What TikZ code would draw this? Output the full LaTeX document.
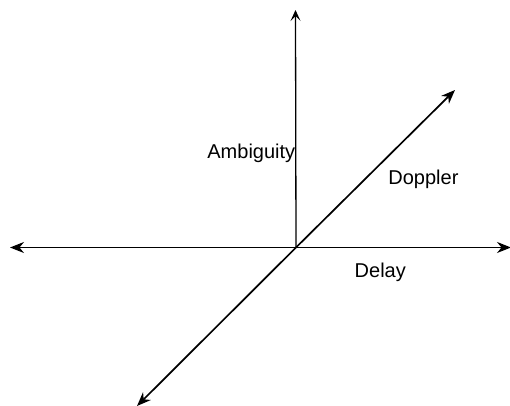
\documentclass[tikz,border=0pt]{standalone}
\usepackage{fontspec}
\setmainfont{Liberation Sans}
\usetikzlibrary{arrows.meta}
\begin{document}
\begin{tikzpicture}[x=0.5pt, y=-0.5pt,
    axis/.style={line width=0.85pt, -{Stealth[length=7pt, width=5.5pt]}},
    lbl/.style={anchor=base west, inner sep=0pt, font=\fontsize{10}{12}\selectfont}]
    \useasboundingbox (0, 0) rectangle (510, 406);

    % 坐标点
    \coordinate (O) at (296, 247.5);
    \coordinate (left) at (10, 247.5);
    \coordinate (right) at (511, 247.5);
    \coordinate (top) at (295.5, 10);
    \coordinate (ne) at (455, 90);
    \coordinate (sw) at (137, 406);

    % 坐标轴
    \draw[axis] (O) -- (left);
    \draw[axis] (O) -- (right);
    \draw[line width=0.65pt, -{Stealth[length=5.5pt, width=5pt, inset=2.5pt]}] (O) -- (top);
    \draw[axis] (O) -- (ne);
    \draw[axis] (O) -- (sw);

    % 标签
    \node[lbl] (amb) at (207, 158.3) {Ambiguity};
    \node[lbl] (dop) at (388, 184.3) {Doppler};
    \node[lbl] (del) at (354.3, 277.7) {Delay};
\end{tikzpicture}
\end{document}
